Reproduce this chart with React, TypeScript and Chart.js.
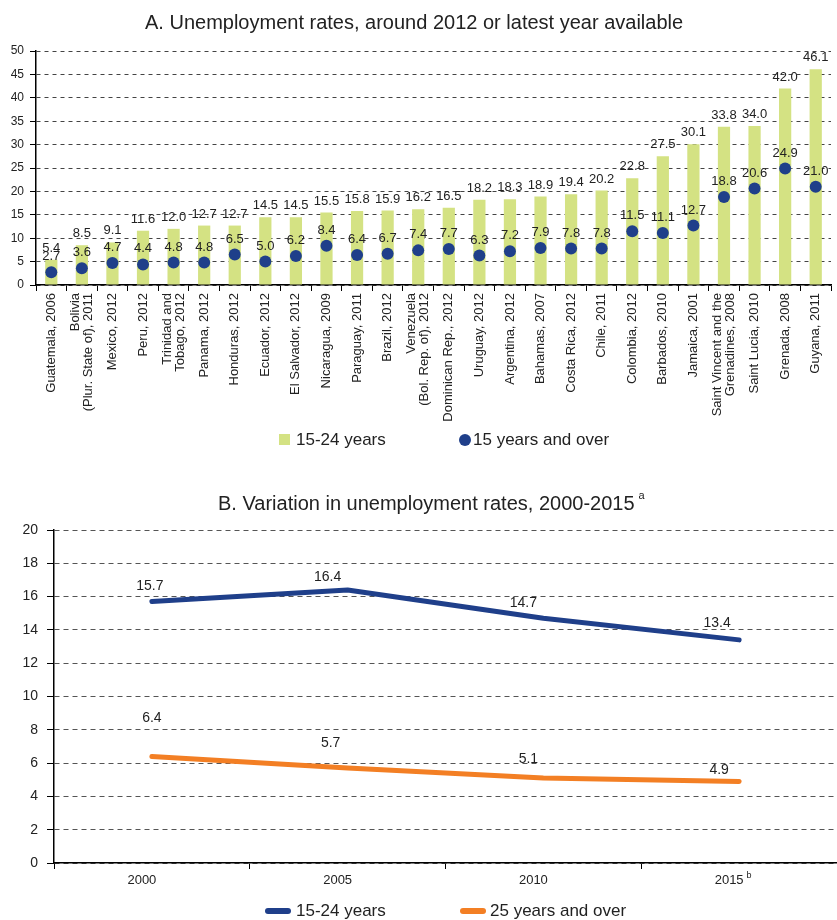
import React, { useEffect, useRef } from "react";
import { Chart, registerables } from "chart.js";

Chart.register(...registerables);

const FONT = '"Liberation Sans", Arial, Helvetica, sans-serif';
Chart.defaults.font.family = FONT;

// ---------- Data: Panel A ----------
const countries: (string | string[])[] = [
  "Guatemala, 2006",
  ["Bolivia", "(Plur. State of), 2011"],
  "Mexico, 2012",
  "Peru, 2012",
  ["Trinidad and", "Tobago, 2012"],
  "Panama, 2012",
  "Honduras, 2012",
  "Ecuador, 2012",
  "El Salvador, 2012",
  "Nicaragua, 2009",
  "Paraguay, 2011",
  "Brazil, 2012",
  ["Venezuela", "(Bol. Rep. of), 2012"],
  "Dominican Rep., 2012",
  "Uruguay, 2012",
  "Argentina, 2012",
  "Bahamas, 2007",
  "Costa Rica, 2012",
  "Chile, 2011",
  "Colombia, 2012",
  "Barbados, 2010",
  "Jamaica, 2001",
  ["Saint Vincent and the", "Grenadines, 2008"],
  "Saint Lucia, 2010",
  "Grenada, 2008",
  "Guyana, 2011",
];
const youthRate = [
  5.4, 8.5, 9.1, 11.6, 12.0, 12.7, 12.7, 14.5, 14.5, 15.5, 15.8, 15.9, 16.2,
  16.5, 18.2, 18.3, 18.9, 19.4, 20.2, 22.8, 27.5, 30.1, 33.8, 34.0, 42.0, 46.1,
];
const overallRate = [
  2.7, 3.6, 4.7, 4.4, 4.8, 4.8, 6.5, 5.0, 6.2, 8.4, 6.4, 6.7, 7.4, 7.7, 6.3,
  7.2, 7.9, 7.8, 7.8, 11.5, 11.1, 12.7, 18.8, 20.6, 24.9, 21.0,
];
const yTicksA = [0, 50, 5]; // min, max, step

// ---------- Data: Panel B ----------
const years = ["2000", "2005", "2010", "2015"];
const youthTrend = [15.7, 16.4, 14.7, 13.4];
const adultTrend = [6.4, 5.7, 5.1, 4.9];
const yTicksB = [0, 20, 2]; // min, max, step

// ---------- Styles ----------
const GREEN = "#d4e283";
const NAVY = "#1f3f8a";
const ORANGE = "#f37f24";
const TEXT = "#222";
const X_LABEL_OFFSET_B = -10;
const X_LABEL_LINE_A = 13;
// label offsets (dx, dy to label centre) relative to each line point in panel B
const youthLabelShift = [[-2, -15], [-20, -13], [-20, -15], [-22, -17]];
const adultLabelShift = [[0, -38], [-17, -25], [-15, -19], [-20, -11]];

const labelsA = {
  id: "labelsA",
  afterDatasetsDraw(chart: any) {
    const ctx = chart.ctx;
    ctx.save();
    ctx.font = `13px ${FONT}`;
    ctx.fillStyle = TEXT;
    ctx.textAlign = "center";
    ctx.textBaseline = "bottom";
    const bars = chart.getDatasetMeta(1).data;
    bars.forEach((el: any, i: number) => {
      ctx.fillText(youthRate[i].toFixed(1), el.x, el.y - 5);
    });
    const pts = chart.getDatasetMeta(0).data;
    pts.forEach((el: any, i: number) => {
      ctx.fillText(overallRate[i].toFixed(1), el.x, el.y - 9);
    });
    ctx.restore();
  },
  afterDraw(chart: any) {
    // rotated category labels, each block centred on its tick
    const xs = chart.scales.x;
    const ctx = chart.ctx;
    ctx.save();
    ctx.font = `13px ${FONT}`;
    ctx.fillStyle = TEXT;
    ctx.textAlign = "right";
    ctx.textBaseline = "middle";
    countries.forEach((lab, i) => {
      const lines = Array.isArray(lab) ? lab : [lab];
      const x = xs.getPixelForTick(i);
      ctx.save();
      ctx.translate(x, xs.top + 8);
      ctx.rotate(-Math.PI / 2);
      lines.forEach((line, j) => {
        const dy = (j - (lines.length - 1) / 2) * X_LABEL_LINE_A;
        ctx.fillText(line, 0, dy);
      });
      ctx.restore();
    });
    ctx.restore();
  },
};

const labelsB = {
  id: "labelsB",
  afterDatasetsDraw(chart: any) {
    const ctx = chart.ctx;
    ctx.save();
    ctx.font = `14px ${FONT}`;
    ctx.fillStyle = TEXT;
    ctx.textAlign = "center";
    ctx.textBaseline = "middle";
    const m0 = chart.getDatasetMeta(0).data;
    m0.forEach((el: any, i: number) => {
      ctx.fillText(youthTrend[i].toFixed(1), el.x + youthLabelShift[i][0], el.y + youthLabelShift[i][1]);
    });
    const m1 = chart.getDatasetMeta(1).data;
    m1.forEach((el: any, i: number) => {
      ctx.fillText(adultTrend[i].toFixed(1), el.x + adultLabelShift[i][0], el.y + adultLabelShift[i][1]);
    });
    // footnote "b" on last x label
    const xs = chart.scales.x;
    const last = years.length - 1;
    const px = xs.getPixelForTick(last) + X_LABEL_OFFSET_B;
    ctx.font = `13px ${FONT}`;
    const w = ctx.measureText(years[last]).width;
    ctx.font = `9px ${FONT}`;
    ctx.textAlign = "left";
    ctx.textBaseline = "top";
    ctx.fillText("b", px + w / 2 + 3, xs.top + 8);
    ctx.restore();
  },
};

export default function App() {
  const refA = useRef<HTMLCanvasElement>(null);
  const refB = useRef<HTMLCanvasElement>(null);

  useEffect(() => {
    document.body.style.margin = "0";
    const chartA = new Chart(refA.current as HTMLCanvasElement, {
      type: "bar",
      data: {
        labels: countries as any,
        datasets: [
          {
            type: "line",
            label: "15 years and over",
            data: overallRate,
            showLine: false,
            pointRadius: 6,
            pointHoverRadius: 6,
            pointBackgroundColor: NAVY,
            pointBorderWidth: 0,
            borderColor: NAVY,
            backgroundColor: NAVY,
            order: 1,
          } as any,
          {
            type: "bar",
            label: "15-24 years",
            data: youthRate,
            backgroundColor: GREEN,
            barPercentage: 0.4,
            categoryPercentage: 1,
            order: 2,
          },
        ],
      },
      options: {
        responsive: false,
        animation: false,
        layout: { padding: { top: 51, right: 6, bottom: 35, left: 0 } },
        plugins: { legend: { display: false }, tooltip: { enabled: false }, title: { display: false } },
        scales: {
          x: {
            offset: true,
            grid: { offset: true, drawOnChartArea: false, drawTicks: true, tickLength: 6, tickColor: "#000" },
            border: { color: "#000", width: 1.5 },
            ticks: { display: false, autoSkip: false },
            afterFit: (s: any) => {
              s.height = 140;
            },
          },
          y: {
            min: yTicksA[0],
            max: yTicksA[1],
            ticks: { stepSize: yTicksA[2], font: { size: 12 }, color: TEXT, padding: 6 },
            grid: { color: "#444", lineWidth: 1, tickLength: 6, tickColor: "#000" },
            border: { dash: [4, 4], color: "#000", width: 1.5 },
            afterFit: (s: any) => {
              s.width = 36;
            },
          },
        },
      },
      plugins: [labelsA],
    });

    const chartB = new Chart(refB.current as HTMLCanvasElement, {
      type: "line",
      data: {
        labels: years,
        datasets: [
          {
            label: "15-24 years",
            data: youthTrend,
            borderColor: NAVY,
            backgroundColor: NAVY,
            borderWidth: 5,
            borderCapStyle: "round",
            borderJoinStyle: "round",
            pointRadius: 0,
            tension: 0,
          },
          {
            label: "25 years and over",
            data: adultTrend,
            borderColor: ORANGE,
            backgroundColor: ORANGE,
            borderWidth: 5,
            borderCapStyle: "round",
            borderJoinStyle: "round",
            pointRadius: 0,
            tension: 0,
          },
        ],
      },
      options: {
        responsive: false,
        animation: false,
        layout: { padding: { top: 70, right: 0, bottom: 27, left: 0 } },
        plugins: { legend: { display: false }, tooltip: { enabled: false }, title: { display: false } },
        scales: {
          x: {
            offset: true,
            grid: { offset: true, drawOnChartArea: false, drawTicks: true, tickLength: 6, tickColor: "#000" },
            border: { color: "#000", width: 1.5 },
            ticks: { font: { size: 13 }, color: TEXT, padding: 4, maxRotation: 0, labelOffset: X_LABEL_OFFSET_B },
            afterFit: (s: any) => {
              s.height = 30;
            },
          },
          y: {
            min: yTicksB[0],
            max: yTicksB[1],
            ticks: { stepSize: yTicksB[2], font: { size: 14 }, color: TEXT, padding: 9 },
            grid: { color: "#555", lineWidth: 1, tickLength: 7, tickColor: "#000" },
            border: { dash: [5, 4], color: "#000", width: 1.5 },
            afterFit: (s: any) => {
              s.width = 54;
            },
          },
        },
      },
      plugins: [labelsB],
    });

    return () => {
      chartA.destroy();
      chartB.destroy();
    };
  }, []);

  const title: React.CSSProperties = {
    position: "absolute",
    fontSize: 20,
    lineHeight: "24px",
    whiteSpace: "nowrap",
    color: TEXT,
  };
  const legendText: React.CSSProperties = {
    position: "absolute",
    fontSize: 17,
    lineHeight: "24px",
    whiteSpace: "nowrap",
    color: TEXT,
  };

  return (
    <div style={{ position: "relative", width: 837, height: 920, background: "#fff", fontFamily: FONT, overflow: "hidden" }}>
      <canvas ref={refA} width={837} height={460} style={{ position: "absolute", left: 0, top: 0, display: "block" }} />
      <canvas ref={refB} width={837} height={460} style={{ position: "absolute", left: 0, top: 460, display: "block" }} />

      <div style={{ ...title, left: 145, top: 10 }}>A. Unemployment rates, around 2012 or latest year available</div>
      <div style={{ ...title, left: 218, top: 491 }}>
        B. Variation in unemployment rates, 2000-2015
        <sup style={{ fontSize: 11, marginLeft: 4, verticalAlign: "top", lineHeight: "12px", position: "relative", top: -2 }}>a</sup>
      </div>

      {/* Legend A */}
      <div style={{ position: "absolute", left: 279, top: 434, width: 11, height: 11, background: GREEN }} />
      <div style={{ ...legendText, left: 296, top: 428 }}>15-24 years</div>
      <div style={{ position: "absolute", left: 459, top: 434, width: 12, height: 12, borderRadius: 6, background: NAVY }} />
      <div style={{ ...legendText, left: 473, top: 428 }}>15 years and over</div>

      {/* Legend B */}
      <div style={{ position: "absolute", left: 265, top: 908, width: 26, height: 6, borderRadius: 3, background: NAVY }} />
      <div style={{ ...legendText, left: 296, top: 899 }}>15-24 years</div>
      <div style={{ position: "absolute", left: 460, top: 908, width: 26, height: 6, borderRadius: 3, background: ORANGE }} />
      <div style={{ ...legendText, left: 490, top: 899 }}>25 years and over</div>
    </div>
  );
}
